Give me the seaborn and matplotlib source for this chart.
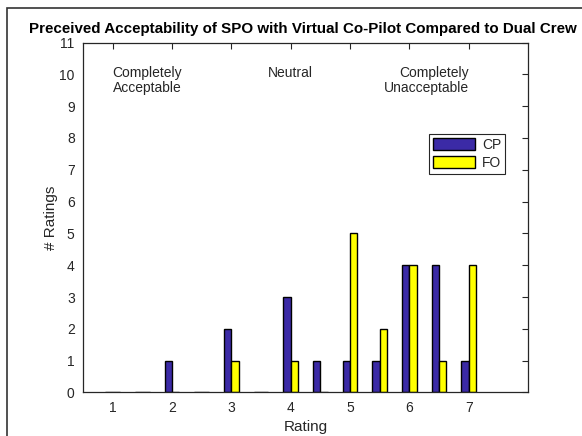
import matplotlib
matplotlib.use("Agg")
import matplotlib.pyplot as plt
import numpy
import pandas
import seaborn as sns
from matplotlib.patches import Rectangle

OUTPUT_FILE_NAME = "out.png"

# ratings in half steps, one bar per crew type at each
RATINGS = [1, 1.5, 2, 2.5, 3, 3.5, 4, 4.5, 5, 5.5, 6, 6.5, 7]
CP_COUNTS = [0, 0, 1, 0, 2, 0, 3, 1, 1, 1, 4, 4, 1]
FO_COUNTS = [0, 0, 0, 0, 1, 0, 1, 0, 5, 2, 4, 1, 4]
SERIES_NAMES = ["CP", "FO"]
SERIES_COLORS = ["#3b2aa6", "#ffff00"]
X_TICKS = [1, 2, 3, 4, 5, 6, 7]
Y_TICKS = list(range(0, 12))

TITLE = "Preceived Acceptability of SPO with Virtual Co-Pilot Compared to Dual Crew"


def build_frame():
    rows = []
    for name, counts in zip(SERIES_NAMES, [CP_COUNTS, FO_COUNTS]):
        for rating, count in zip(RATINGS, counts):
            rows.append({"Rating": rating, "Count": count, "Crew": name})
    return pandas.DataFrame(rows)


sns.set_style("white")
plt.rcParams["font.family"] = ["Liberation Sans", "DejaVu Sans"]

fig = plt.figure(figsize=(5.82, 4.36), dpi=100)
ax = fig.add_axes([0.1426, 0.0998, 0.7646, 0.8027])

sns.barplot(
    data=build_frame(), x="Rating", y="Count", hue="Crew",
    native_scale=True, width=0.5, palette=SERIES_COLORS,
    edgecolor="black", linewidth=1.0, saturation=1, ax=ax,
)

ax.set_xlim(0.5, 8)
ax.set_ylim(0, 11)
ax.set_xticks(X_TICKS)
ax.set_xticklabels([str(t) for t in X_TICKS])
ax.set_yticks(Y_TICKS)
ax.tick_params(direction="in", length=4, width=0.8, top=True, right=True,
               labelsize=10, colors="#262626", pad=6)
for spine in ax.spines.values():
    spine.set_color("#262626")
    spine.set_linewidth(0.9)

ax.set_xlabel("Rating", fontsize=11, color="#262626", labelpad=4)
ax.set_ylabel("# Ratings", fontsize=11, color="#262626", labelpad=1)
fig.text(0.521, 0.934, TITLE, ha="center", va="center", fontsize=10.9,
         fontweight="bold", color="black")

ax.text(1.0, 10.25, "Completely\nAcceptable", ha="left", va="top", fontsize=10,
        color="#262626", linespacing=1.1)
ax.text(4.0, 10.05, "Neutral", ha="center", va="center", fontsize=10,
        color="#262626")
ax.text(7.0, 10.25, "Completely\nUnacceptable", ha="right", va="top", fontsize=10,
        color="#262626", linespacing=1.1, multialignment="right")

legend = ax.legend(loc="upper left", bbox_to_anchor=(0.778, 0.739),
                   borderaxespad=0, fancybox=False, framealpha=1,
                   edgecolor="#262626", fontsize=10, handlelength=3.0,
                   handleheight=0.95, labelspacing=0.3, borderpad=0.3,
                   handletextpad=0.5, title=None)
legend.get_frame().set_linewidth(0.8)

# outer figure frame, cut off at the right and bottom like the source
fig.patches.append(Rectangle((7 / 582, -0.1), 1.2, 1 - 8 / 436 + 0.1,
                             transform=fig.transFigure, fill=False,
                             edgecolor="#333333", linewidth=1.2))

plt.savefig(OUTPUT_FILE_NAME, dpi=100)
